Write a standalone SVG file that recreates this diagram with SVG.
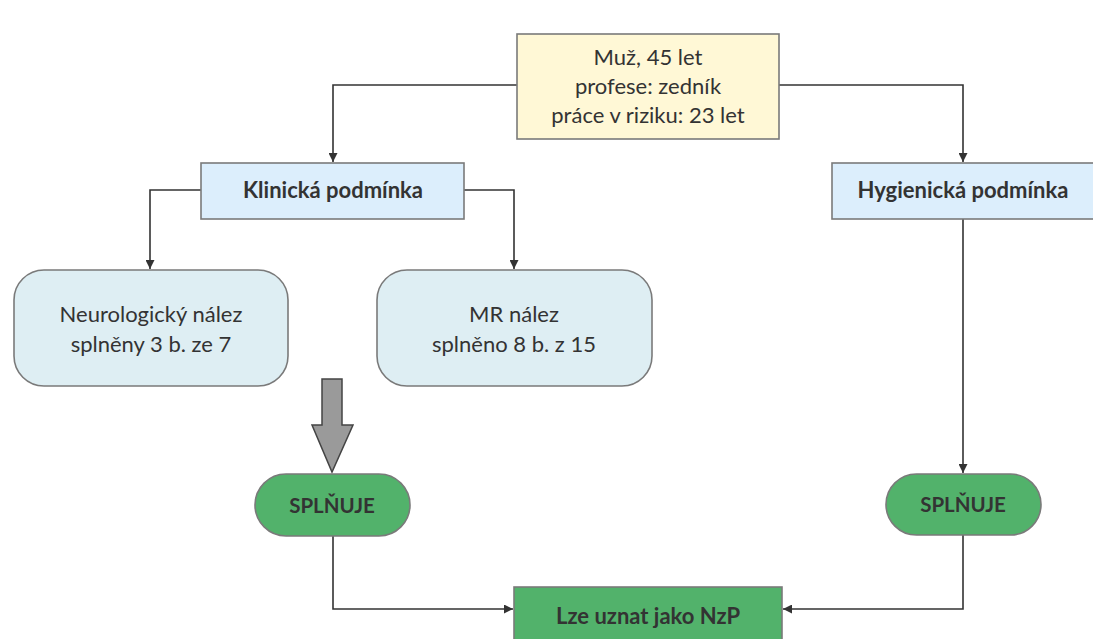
<svg xmlns="http://www.w3.org/2000/svg" width="1093" height="639" viewBox="0 0 1093 639">
<style>
text{font-family:Lato,"Open Sans","Liberation Sans",sans-serif;fill:#333;text-anchor:middle}
.n{font-size:22px}
.b{font-size:22px;font-weight:bold}
.s{font-size:20.5px;font-weight:bold}
.c{fill:none;stroke:#333;stroke-width:1.6}
.box{stroke:#7a7a7a;stroke-width:1.6}
</style>
<defs>
<marker id="ah" viewBox="0 0 10 10" refX="10" refY="5" markerWidth="9" markerHeight="9" markerUnits="userSpaceOnUse" orient="auto">
<path d="M0,0 L10,5 L0,10 z" fill="#333"/>
</marker>
</defs>
<rect width="1093" height="639" fill="#fff"/>
<g id="connectors">
<path class="c" d="M517,85 H333 V162" marker-end="url(#ah)"/>
<path class="c" d="M779,85 H963 V162" marker-end="url(#ah)"/>
<path class="c" d="M201,190 H150 V269" marker-end="url(#ah)"/>
<path class="c" d="M464,190 H514 V269" marker-end="url(#ah)"/>
<path class="c" d="M963,219 V473" marker-end="url(#ah)"/>
<path class="c" d="M333,536 V609 H513" marker-end="url(#ah)"/>
<path class="c" d="M963,535 V609 H783" marker-end="url(#ah)"/>
<path d="M322,379 H342 V425 H353 L332,472 L312,425 H322 Z" fill="#9a9a9a" stroke="#444" stroke-width="1.5"/>
</g>
<g id="n-patient">
<rect class="box" x="517" y="34" width="262" height="105" fill="#FFF8D6"/>
<text class="n" x="648" y="65">Muž, 45 let</text>
<text class="n" x="648" y="94">profese: zedník</text>
<text class="n" x="648" y="123">práce v riziku: 23 let</text>
</g>
<g id="n-klinicka">
<rect class="box" x="201" y="163" width="263" height="56" fill="#DCEEFC"/>
<text class="b" x="333" y="198">Klinická podmínka</text>
</g>
<g id="n-hygienicka">
<rect class="box" x="832" y="163" width="262" height="56" fill="#DCEEFC"/>
<text class="b" x="963" y="198">Hygienická podmínka</text>
</g>
<g id="n-neuro">
<rect class="box" x="14" y="270" width="274" height="116" rx="30" fill="#DEEEF3"/>
<text class="n" x="151" y="322">Neurologický nález</text>
<text class="n" x="151" y="352">splněny 3 b. ze 7</text>
</g>
<g id="n-mr">
<rect class="box" x="377" y="270" width="275" height="116" rx="30" fill="#DEEEF3"/>
<text class="n" x="514" y="322">MR nález</text>
<text class="n" x="514" y="352">splněno 8 b. z 15</text>
</g>
<g id="n-splnuje-left">
<rect class="box" x="255" y="474" width="155" height="62" rx="31" fill="#52B26B" stroke="#3d6b4a"/>
<text class="s" x="332" y="513">SPLŇUJE</text>
</g>
<g id="n-splnuje-right">
<rect class="box" x="886" y="474" width="155" height="61" rx="30.5" fill="#52B26B" stroke="#3d6b4a"/>
<text class="s" x="963" y="512">SPLŇUJE</text>
</g>
<g id="n-nzp">
<rect class="box" x="514" y="587" width="268" height="60" fill="#52B26B" stroke="#3d4d40"/>
<text class="b" x="648" y="624">Lze uznat jako NzP</text>
</g>
</svg>
